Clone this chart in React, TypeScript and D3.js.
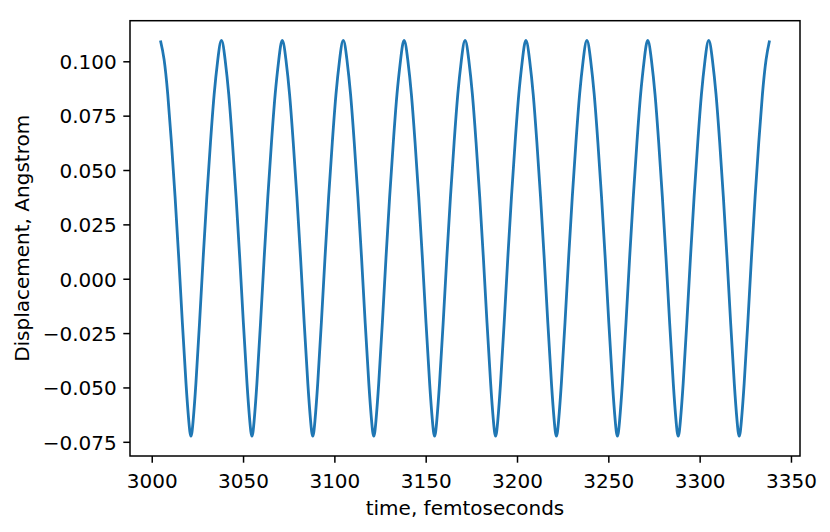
import React from "react";
import * as d3 from "d3";

// Displacement vs time (one row per oscillation cycle, starting at a crest)
const time: number[] = [
  3004.5, 3006.5, 3008.5, 3010.5, 3012.5, 3014.5, 3016.5, 3018.5, 3020.0, 3021.2, 3022.4, 3023.9, 3025.9, 3027.9, 3029.9, 3031.9, 3033.9, 3035.9,
  3037.9, 3039.9, 3041.9, 3043.9, 3045.9, 3047.9, 3049.9, 3051.9, 3053.4, 3054.6, 3055.8, 3057.3, 3059.3, 3061.3, 3063.3, 3065.3, 3067.3, 3069.3,
  3071.2, 3073.2, 3075.2, 3077.2, 3079.2, 3081.2, 3083.2, 3085.2, 3086.7, 3087.9, 3089.1, 3090.6, 3092.6, 3094.6, 3096.6, 3098.6, 3100.6, 3102.6,
  3104.6, 3106.6, 3108.6, 3110.6, 3112.6, 3114.6, 3116.6, 3118.6, 3120.1, 3121.3, 3122.5, 3124.0, 3126.0, 3128.0, 3130.0, 3132.0, 3134.0, 3136.0,
  3137.9, 3139.9, 3141.9, 3143.9, 3145.9, 3147.9, 3149.9, 3151.9, 3153.4, 3154.6, 3155.8, 3157.3, 3159.3, 3161.3, 3163.3, 3165.3, 3167.3, 3169.3,
  3171.3, 3173.3, 3175.3, 3177.3, 3179.3, 3181.3, 3183.3, 3185.3, 3186.8, 3188.0, 3189.2, 3190.7, 3192.7, 3194.7, 3196.7, 3198.7, 3200.7, 3202.7,
  3204.6, 3206.6, 3208.6, 3210.6, 3212.6, 3214.6, 3216.6, 3218.6, 3220.1, 3221.3, 3222.5, 3224.0, 3226.0, 3228.0, 3230.0, 3232.0, 3234.0, 3236.0,
  3238.0, 3240.0, 3242.0, 3244.0, 3246.0, 3248.0, 3250.0, 3252.0, 3253.5, 3254.7, 3255.9, 3257.4, 3259.4, 3261.4, 3263.4, 3265.4, 3267.4, 3269.4,
  3271.3, 3273.3, 3275.3, 3277.3, 3279.3, 3281.3, 3283.3, 3285.3, 3286.8, 3288.0, 3289.2, 3290.7, 3292.7, 3294.7, 3296.7, 3298.7, 3300.7, 3302.7,
  3304.7, 3306.7, 3308.7, 3310.7, 3312.7, 3314.7, 3316.7, 3318.7, 3320.2, 3321.4, 3322.6, 3324.1, 3326.1, 3328.1, 3330.1, 3332.1, 3334.1, 3336.1,
  3338.0,
];

const displacement: number[] = [
  0.1098, 0.101, 0.085, 0.063, 0.038, 0.01, -0.02, -0.048, -0.065, -0.0722, -0.065, -0.048, -0.02, 0.01, 0.038, 0.063, 0.085, 0.101,
  0.1098, 0.101, 0.085, 0.063, 0.038, 0.01, -0.02, -0.048, -0.065, -0.0722, -0.065, -0.048, -0.02, 0.01, 0.038, 0.063, 0.085, 0.101,
  0.1098, 0.101, 0.085, 0.063, 0.038, 0.01, -0.02, -0.048, -0.065, -0.0722, -0.065, -0.048, -0.02, 0.01, 0.038, 0.063, 0.085, 0.101,
  0.1098, 0.101, 0.085, 0.063, 0.038, 0.01, -0.02, -0.048, -0.065, -0.0722, -0.065, -0.048, -0.02, 0.01, 0.038, 0.063, 0.085, 0.101,
  0.1098, 0.101, 0.085, 0.063, 0.038, 0.01, -0.02, -0.048, -0.065, -0.0722, -0.065, -0.048, -0.02, 0.01, 0.038, 0.063, 0.085, 0.101,
  0.1098, 0.101, 0.085, 0.063, 0.038, 0.01, -0.02, -0.048, -0.065, -0.0722, -0.065, -0.048, -0.02, 0.01, 0.038, 0.063, 0.085, 0.101,
  0.1098, 0.101, 0.085, 0.063, 0.038, 0.01, -0.02, -0.048, -0.065, -0.0722, -0.065, -0.048, -0.02, 0.01, 0.038, 0.063, 0.085, 0.101,
  0.1098, 0.101, 0.085, 0.063, 0.038, 0.01, -0.02, -0.048, -0.065, -0.0722, -0.065, -0.048, -0.02, 0.01, 0.038, 0.063, 0.085, 0.101,
  0.1098, 0.101, 0.085, 0.063, 0.038, 0.01, -0.02, -0.048, -0.065, -0.0722, -0.065, -0.048, -0.02, 0.01, 0.038, 0.063, 0.085, 0.101,
  0.1098, 0.101, 0.085, 0.063, 0.038, 0.01, -0.02, -0.048, -0.065, -0.0722, -0.065, -0.048, -0.02, 0.01, 0.038, 0.063, 0.085, 0.101,
  0.1098,
];

const xTicks: number[] = [3000, 3050, 3100, 3150, 3200, 3250, 3300, 3350];
const yTicks: number[] = [-0.075, -0.05, -0.025, 0, 0.025, 0.05, 0.075, 0.1];

const xLabel = "time, femtoseconds";
const yLabel = "Displacement, Angstrom";

const W = 830;
const H = 532;
const M = { left: 130, right: 800, top: 20.7, bottom: 456 };
const FONT = "'DejaVu Sans', sans-serif";
const FS = 20;
const TICK = 6.7;
const PAD = 6.5;
const BLUE = "#1f77b4";

export default function App() {
  const [x0, x1] = d3.extent(time) as [number, number];
  const [y0, y1] = d3.extent(displacement) as [number, number];
  const mx = (x1 - x0) * 0.05;
  const my = (y1 - y0) * 0.05;

  const x = d3.scaleLinear().domain([x0 - mx, x1 + mx]).range([M.left, M.right]);
  const y = d3.scaleLinear().domain([y0 - my, y1 + my]).range([M.bottom, M.top]);

  const pts: [number, number][] = time.map((t, i) => [t, displacement[i]]);
  const line = d3
    .line<[number, number]>()
    .x((d) => x(d[0]))
    .y((d) => y(d[1]))
    .curve(d3.curveNatural);

  const fmtY = (v: number) => {
    const s = d3.format(".3f")(Math.abs(v) < 1e-12 ? 0 : v);
    return s.replace("-", "\u2212");
  };

  return (
    <svg
      width={W}
      height={H}
      viewBox={`0 0 ${W} ${H}`}
      style={{ position: "absolute", left: 0, top: 0, background: "#fff" }}
      fontFamily={FONT}
    >
      <rect x={0} y={0} width={W} height={H} fill="#fff" />
      <defs>
        <clipPath id="plotclip">
          <rect x={M.left} y={M.top} width={M.right - M.left} height={M.bottom - M.top} />
        </clipPath>
      </defs>

      <path
        d={line(pts) || ""}
        fill="none"
        stroke={BLUE}
        strokeWidth={2.8}
        strokeLinejoin="round"
        clipPath="url(#plotclip)"
      />

      {xTicks.map((t) => (
        <g key={`x${t}`}>
          <line x1={x(t)} x2={x(t)} y1={M.bottom} y2={M.bottom + TICK} stroke="#000" strokeWidth={1.5} />
          <text x={x(t)} y={487.5} fontSize={FS} textAnchor="middle" fill="#000">
            {t}
          </text>
        </g>
      ))}

      {yTicks.map((t) => (
        <g key={`y${t}`}>
          <line x1={M.left - TICK} x2={M.left} y1={y(t)} y2={y(t)} stroke="#000" strokeWidth={1.5} />
          <text x={M.left - TICK - PAD} y={y(t) + 7.3} fontSize={FS} textAnchor="end" fill="#000">
            {fmtY(t)}
          </text>
        </g>
      ))}

      <rect
        x={M.left}
        y={M.top}
        width={M.right - M.left}
        height={M.bottom - M.top}
        fill="none"
        stroke="#000"
        strokeWidth={1.5}
      />

      <text x={(M.left + M.right) / 2} y={514.5} fontSize={FS} textAnchor="middle" fill="#000">
        {xLabel}
      </text>
      <text
        transform={`translate(${28.5},${(M.top + M.bottom) / 2}) rotate(-90)`}
        fontSize={FS}
        textAnchor="middle"
        fill="#000"
      >
        {yLabel}
      </text>
    </svg>
  );
}
